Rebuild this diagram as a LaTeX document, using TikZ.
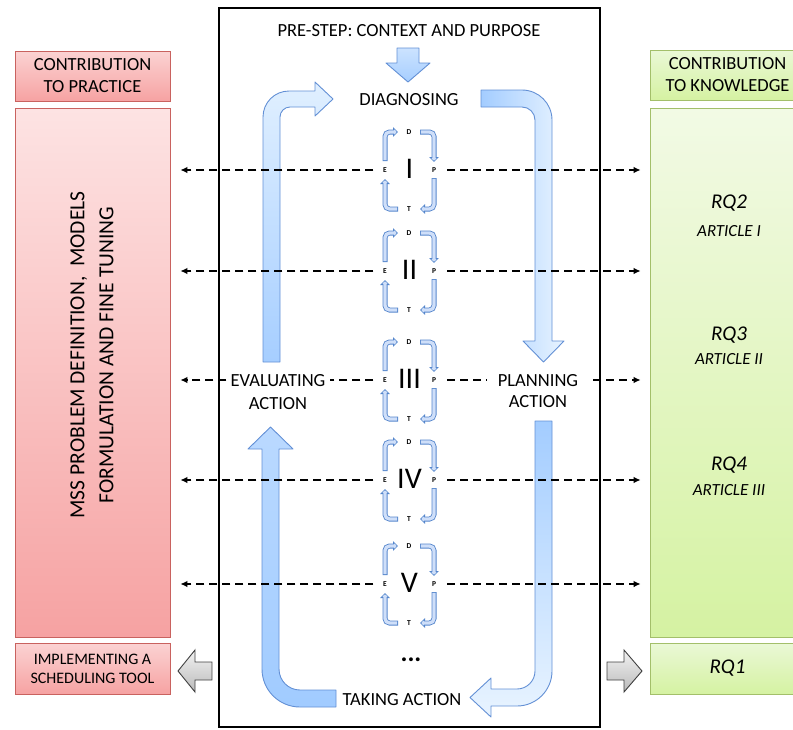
\documentclass[tikz,border=0pt]{standalone}
\usepackage{fontspec}
\setmainfont{Carlito}
\usetikzlibrary{arrows.meta,shadows,calc}

\definecolor{arrowline}{HTML}{6390D5}
\definecolor{cycline}{HTML}{5586CC}
\definecolor{cycfill}{HTML}{CFDFF9}
\definecolor{redline}{HTML}{C9625F}
\definecolor{greenline}{HTML}{A3BF6A}
\definecolor{grayline}{HTML}{404040}
\definecolor{redtop}{HTML}{FDE3E3}
\definecolor{redtopb}{HTML}{FBD3D3}
\definecolor{redbot}{HTML}{F6A2A2}
\definecolor{grntop}{HTML}{F2FAE5}
\definecolor{grntopb}{HTML}{EAF8D6}
\definecolor{grnbot}{HTML}{D5F2A2}

\newcommand\setfs[2]{\fontsize{#1}{#2}\selectfont}

\begin{document}
\begin{tikzpicture}[x=1pt,y=-1pt,
  txt/.style={font=\setfs{18.5}{22}, align=center, inner sep=0pt},
  boxbase/.style={line width=0.6pt, minimum width=155pt, inner sep=0pt,
    drop shadow={shadow xshift=1.3pt, shadow yshift=-1.3pt, opacity=0.3}},
  redbox/.style={boxbase, draw=redline},
  greenbox/.style={boxbase, draw=greenline},
  bigarrow/.style={draw=arrowline, line width=0.9pt, line join=round},
  grayarrow/.style={draw=grayline, line width=0.9pt, top color=white!95!black, bottom color=black!27},
  cyclbl/.style={font=\setfs{7.5}{8}\bfseries, inner sep=0.6pt},
  numeral/.style={font=\setfs{30}{30}, inner sep=0pt},
  rqtxt/.style={font=\setfs{21}{24}\itshape, inner sep=0pt},
  arttxt/.style={font=\setfs{17}{19}\itshape, inner sep=0pt},
  dashplain/.style={line width=1.5pt, dash pattern=on 8pt off 5pt},
  dashln/.style={dashplain, -{Latex[length=7pt,width=6.5pt]}},
  ctube/.style={draw=cycline, line width=5pt, rounded corners=4.5pt,
    -{Triangle[length=5pt,width=9.5pt,line width=0.8pt,fill=cycfill]},
    postaction={draw=cycfill, line width=3.3pt, -, shorten <=0.8pt, shorten >=2.4pt}}
]
\useasboundingbox (0,0) rectangle (793,729);

% ---- contribution to practice (left column)
\node[redbox, minimum height=50pt, top color=redtopb, bottom color=redbot, txt]
  (ctp) at (92.5,76) {CONTRIBUTION\\TO PRACTICE};
\node[redbox, minimum height=529pt, top color=redtop, bottom color=redbot]
  (lbig) at (92.5,372.5) {};
\node[rotate=90, font=\setfs{21.5}{29}, align=center, inner sep=0pt]
  (mss) at (92,355) {MSS PROBLEM DEFINITION,\ \ MODELS\\FORMULATION AND FINE TUNING};
\node[redbox, minimum height=51pt, top color=redtopb, bottom color=redbot,
  font=\setfs{16}{19}, align=center]
  (impl) at (92.5,668.5) {IMPLEMENTING A\\SCHEDULING TOOL};

% ---- contribution to knowledge (right column, runs past the edge)
\begin{scope}
\clip (0,0) rectangle (793,729);
\node[greenbox, minimum height=50pt, top color=grntopb, bottom color=grnbot, txt]
  (ctk) at (727.5,75) {CONTRIBUTION\\TO KNOWLEDGE};
\node[greenbox, minimum height=529pt, top color=grntop, bottom color=grnbot]
  (rbig) at (727.5,372.5) {};
\node[greenbox, minimum height=51pt, top color=grntopb, bottom color=grnbot,
  font=\setfs{21}{24}\itshape]
  (rq1) at (727.5,668.5) {RQ1};
\end{scope}
\node[rqtxt]  (rq2)  at (729,203) {RQ2};
\node[arttxt] (art1) at (729,231) {ARTICLE I};
\node[rqtxt]  (rq3)  at (729,335) {RQ3};
\node[arttxt] (art2) at (729,359) {ARTICLE II};
\node[rqtxt]  (rq4)  at (729,465) {RQ4};
\node[arttxt] (art3) at (729,490) {ARTICLE III};

% ---- gray block arrows towards the outcome boxes
\shade[grayarrow] (212,662) -- (195,662) -- (195,650) -- (178,671) -- (195,692) -- (195,680) -- (212,680) -- cycle;
\shade[grayarrow] (607,662) -- (624,662) -- (624,650) -- (642,671) -- (624,692) -- (624,680) -- (607,680) -- cycle;

% ---- action research frame
\node[draw, line width=2pt, minimum width=381pt, minimum height=719pt, inner sep=0pt]
  (frame) at (409.5,367.5) {};

\node[txt] (pre)  at (409,31)  {PRE-STEP: CONTEXT AND PURPOSE};
\node[txt] (diag) at (409,100) {DIAGNOSING};
\node[txt, font=\setfs{18.5}{23}] (eval) at (278,392.5) {EVALUATING\\ACTION};
\node[txt, font=\setfs{18.5}{21}] (plan) at (538,391) {PLANNING\\ACTION};
\node[txt] (take) at (402,700) {TAKING ACTION};
\node[font=\setfs{26}{26}\bfseries, inner sep=0pt] (dots) at (411,660) {...};

% pre-step arrow
\shade[bigarrow, top color=blue!55!cyan!20!white, bottom color=blue!55!cyan!35!white]
  (397,48) -- (419,48) -- (419,63) -- (430,63) -- (408,82) -- (386,63) -- (397,63) -- cycle;

% evaluating -> diagnosing
\shade[bigarrow, top color=blue!50!cyan!12!white, bottom color=blue!55!cyan!35!white]
  (263,362) -- (263,117) .. controls (263,102.6) and (274.6,91) .. (289,91) -- (315,91) -- (315,82)
  -- (333,99) -- (315,116) -- (315,107) -- (290,107) .. controls (284.5,107) and (280,111.5) .. (280,117)
  -- (280,362) -- cycle;

% diagnosing -> planning
\shade[bigarrow, left color=blue!55!cyan!36!white, right color=blue!50!cyan!9!white]
  (481,90) -- (522,90) .. controls (538.6,90) and (552,103.4) .. (552,120) -- (552,341) -- (564,341)
  -- (543.5,362) -- (523,341) -- (535,341) -- (535,120) .. controls (535,112.8) and (529.2,107) .. (522,107)
  -- (481,107) -- cycle;

% planning -> taking action
\shade[bigarrow, top color=blue!55!cyan!36!white, bottom color=blue!50!cyan!9!white]
  (535,421) -- (552,421) -- (552,671) .. controls (552,690.3) and (536.3,706) .. (517,706) -- (491,706)
  -- (491,717) -- (470,697.5) -- (491,678) -- (491,689) -- (517,689) .. controls (526.9,689) and (535,680.9) .. (535,671)
  -- cycle;

% taking action -> evaluating
\shade[bigarrow, top color=blue!55!cyan!27!white, bottom color=blue!55!cyan!37!white]
  (336,707) -- (300,707) .. controls (279,707) and (262,690) .. (262,669) -- (262,449) -- (248,449)
  -- (270.5,427) -- (293,449) -- (279,449) -- (279,669) .. controls (279,680.6) and (288.4,690) .. (300,690)
  -- (336,690) -- cycle;

% ---- the five D-P-T-E cycles and their links to both columns
\foreach \yc/\num/\k in {170/I/1, 271/II/2, 380/III/3, 480/IV/4, 584/V/5} {
  \node[cyclbl] (D\k) at (409,\yc-38) {D};
  \node[cyclbl] (P\k) at (434,\yc) {P};
  \node[cyclbl] (T\k) at (409,\yc+39) {T};
  \node[cyclbl] (E\k) at (385,\yc) {E};
  \node[numeral] (N\k) at (409.5,\yc-1) {\num};
  \draw[ctube] ($(E\k)+(0,-9)$) |- ($(D\k)+(-11,0)$);
  \draw[ctube] ($(D\k)+(11,0)$) -| ($(P\k)+(0,-8)$);
  \draw[ctube] ($(P\k)+(0,8)$) |- ($(T\k)+(11,0)$);
  \draw[ctube] ($(T\k)+(-11,0)$) -| ($(E\k)+(0,9)$);
  \ifnum\k=3
    \draw[dashplain, shorten <=9pt, shorten >=4pt] (E\k.west) -- (E\k.west -| eval.east);
    \draw[dashln, shorten <=4pt, shorten >=10pt] (E\k.west -| eval.west) -- (E\k.west -| lbig.east);
    \draw[dashplain, shorten <=10.5pt, shorten >=11pt] (P\k.east) -- (P\k.east -| plan.west);
    \draw[dashln, shorten <=15pt, shorten >=9pt] (P\k.east -| plan.east) -- (P\k.east -| rbig.west);
  \else
    \draw[dashln, shorten <=9pt, shorten >=10pt] (E\k.west) -- (E\k.west -| lbig.east);
    \draw[dashln, shorten <=10.5pt, shorten >=9pt] (P\k.east) -- (P\k.east -| rbig.west);
  \fi
}
\end{tikzpicture}
\end{document}
